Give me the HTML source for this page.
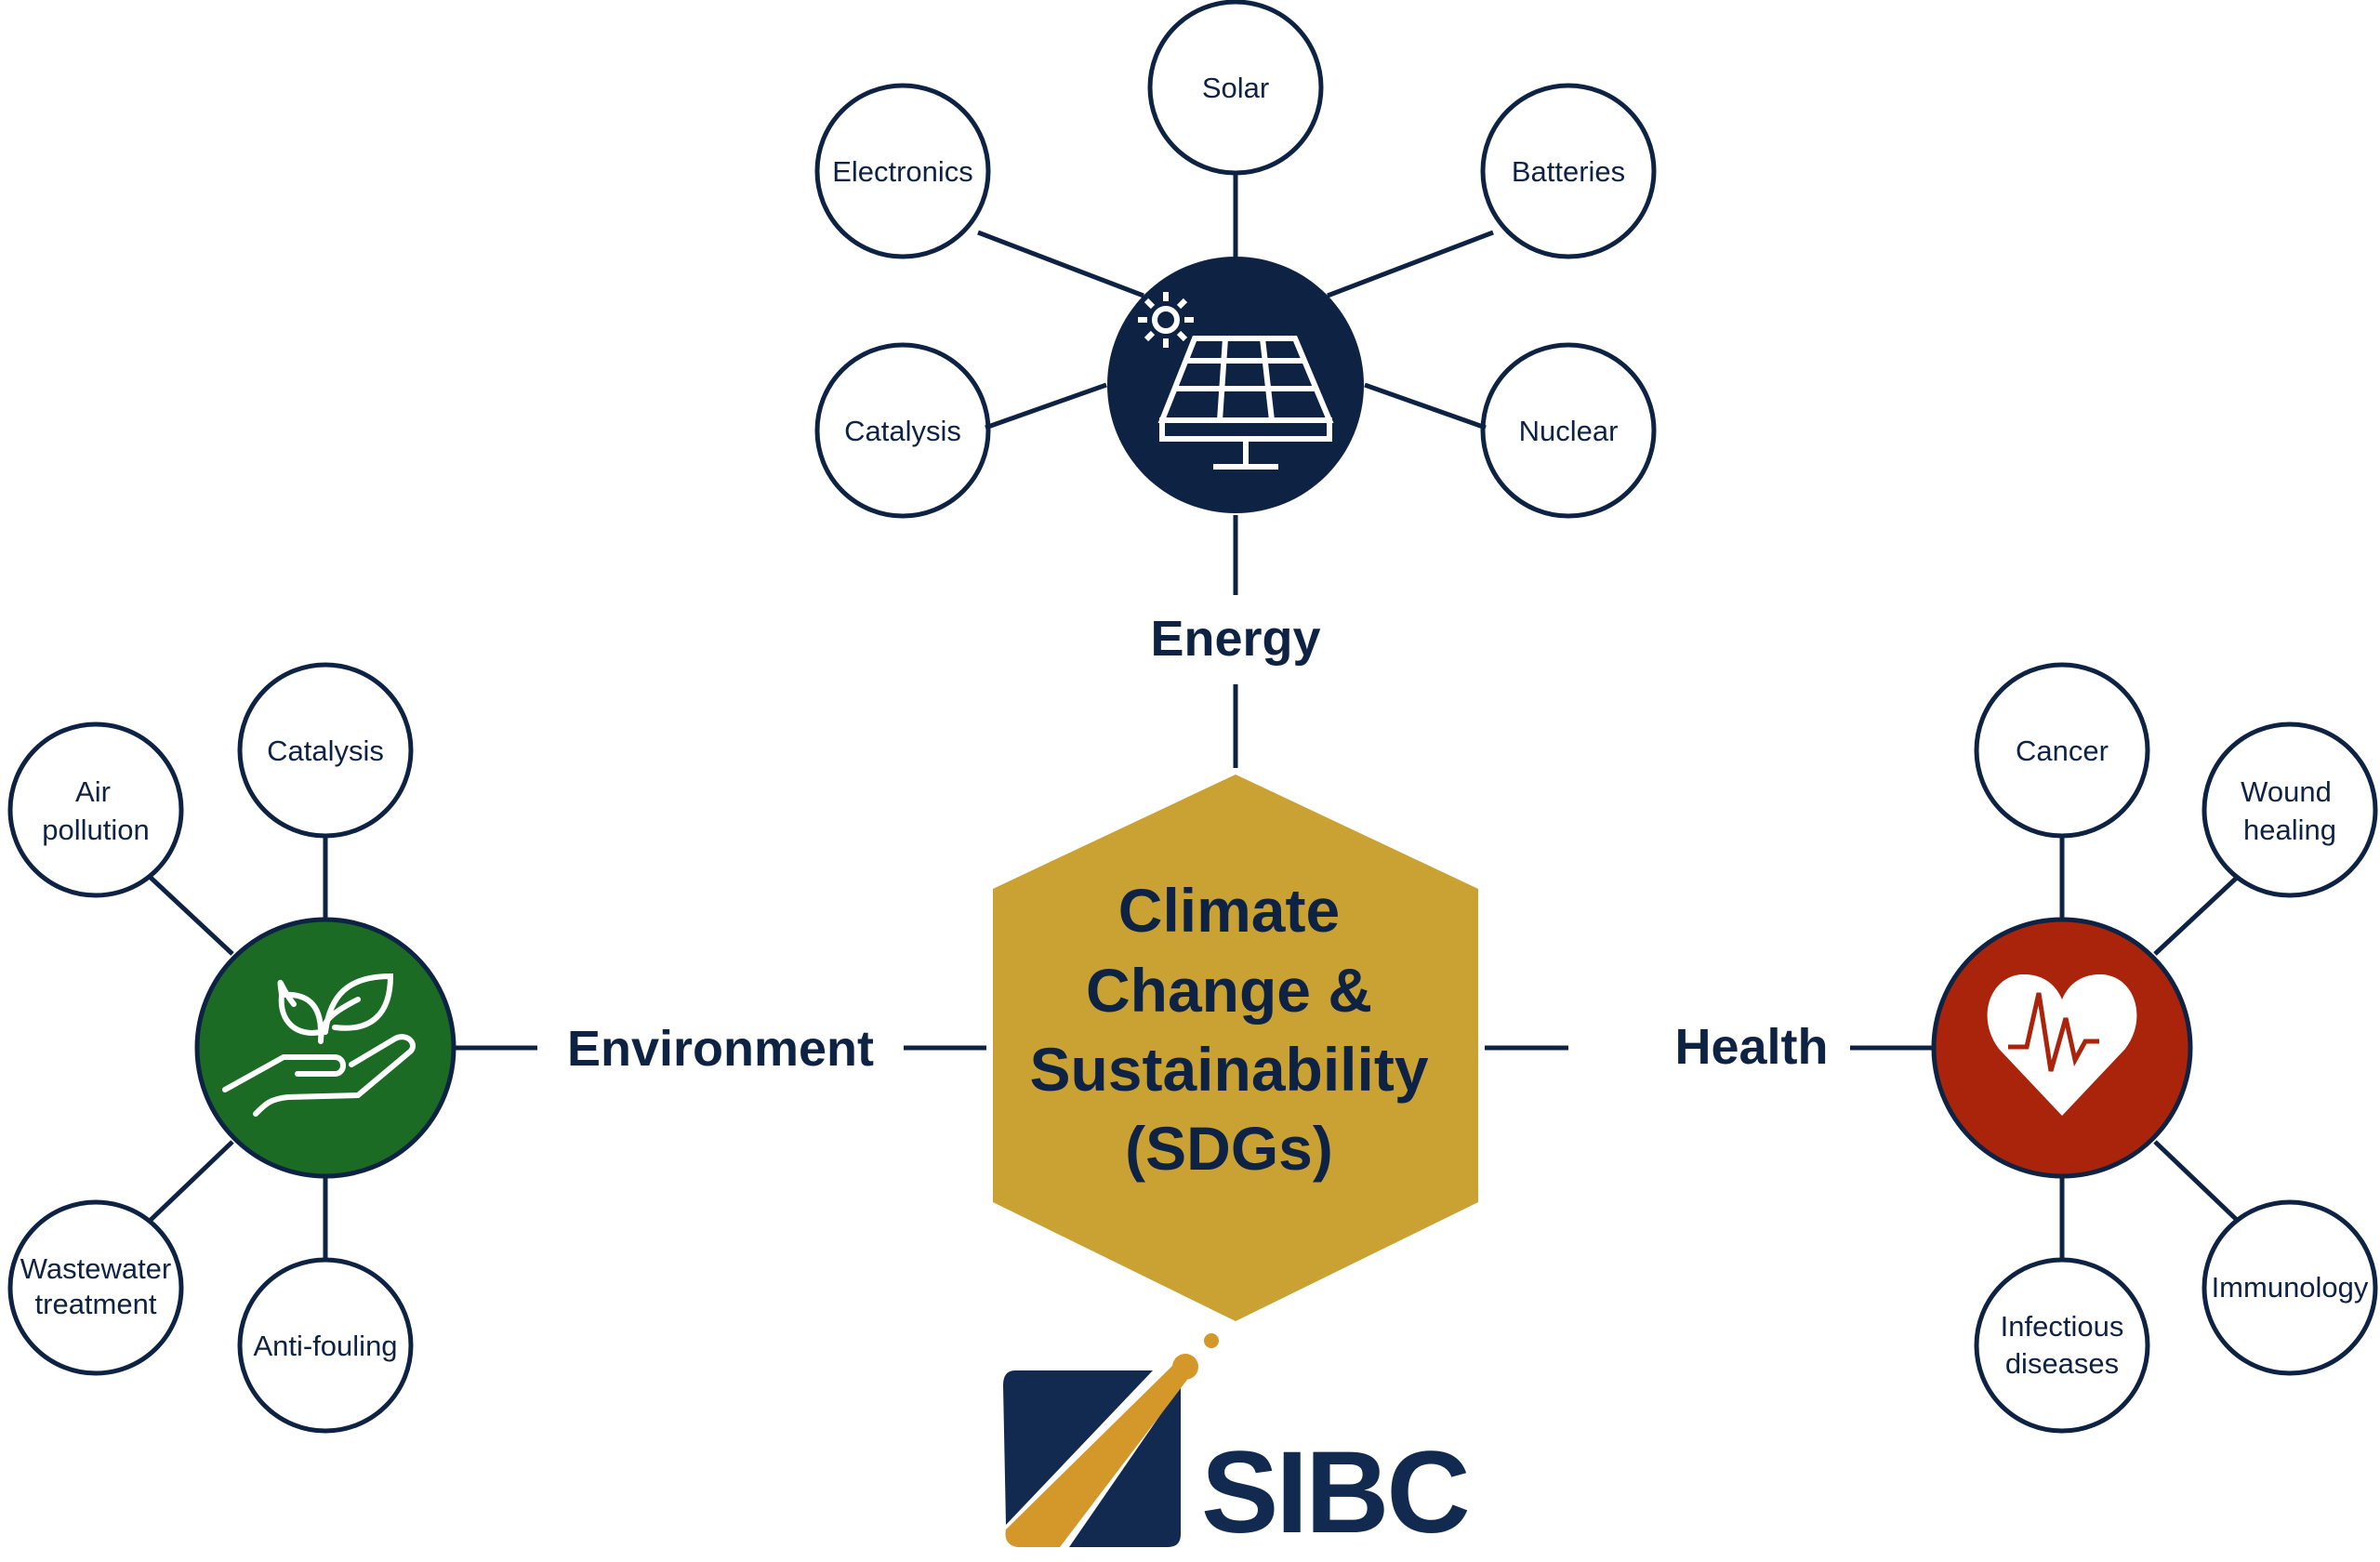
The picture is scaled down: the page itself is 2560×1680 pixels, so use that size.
<!DOCTYPE html>
<html><head><meta charset="utf-8"><style>
html,body{margin:0;padding:0;background:#fff;}
svg{display:block}
text{font-family:"Liberation Sans",sans-serif;fill:#0e2344}
.s{font-size:31px;text-anchor:middle}
.b{font-weight:bold;text-anchor:middle}
</style></head><body>
<svg width="2560" height="1680" viewBox="0 0 2560 1680" xmlns="http://www.w3.org/2000/svg">
<g stroke="#0e2344" stroke-width="5" fill="none">
<line x1="1329" y1="186" x2="1329" y2="280"/>
<line x1="1052" y1="250" x2="1230" y2="318"/>
<line x1="1606" y1="250" x2="1428" y2="318"/>
<line x1="1060" y1="460" x2="1190" y2="414"/>
<line x1="1598" y1="460" x2="1468" y2="414"/>
<line x1="1329" y1="554" x2="1329" y2="640"/>
<line x1="1329" y1="736" x2="1329" y2="826"/>
<line x1="350" y1="899" x2="350" y2="990"/>
<line x1="160" y1="942" x2="250" y2="1026"/>
<line x1="160" y1="1314" x2="250" y2="1228"/>
<line x1="350" y1="1267" x2="350" y2="1355"/>
<line x1="490" y1="1127" x2="578" y2="1127"/>
<line x1="972" y1="1127" x2="1061" y2="1127"/>
<line x1="2218" y1="899" x2="2218" y2="990"/>
<line x1="2408" y1="942" x2="2318" y2="1026"/>
<line x1="2408" y1="1314" x2="2318" y2="1228"/>
<line x1="2218" y1="1267" x2="2218" y2="1355"/>
<line x1="1597" y1="1127" x2="1687" y2="1127"/>
<line x1="1990" y1="1127" x2="2078" y2="1127"/>
<circle cx="1329" cy="94" r="92"/>
<circle cx="971" cy="184" r="92"/>
<circle cx="1687" cy="184" r="92"/>
<circle cx="971" cy="463" r="92"/>
<circle cx="1687" cy="463" r="92"/>
<circle cx="350" cy="807" r="92"/>
<circle cx="103" cy="871" r="92"/>
<circle cx="103" cy="1385" r="92"/>
<circle cx="350" cy="1447" r="92"/>
<circle cx="2218" cy="807" r="92"/>
<circle cx="2463" cy="871" r="92"/>
<circle cx="2463" cy="1385" r="92"/>
<circle cx="2218" cy="1447" r="92"/>
</g>
<circle cx="1329" cy="414" r="138" fill="#0e2344"/>
<circle cx="350" cy="1127" r="138" fill="#1b6b25" stroke="#0e2344" stroke-width="5"/>
<circle cx="2218" cy="1127" r="138" fill="#aa230b" stroke="#0e2344" stroke-width="5"/>
<g stroke="#fff" stroke-width="6" fill="none">
<circle cx="1254" cy="344" r="12"/>
<line x1="1254" y1="314" x2="1254" y2="324"/><line x1="1254" y1="364" x2="1254" y2="374"/>
<line x1="1224" y1="344" x2="1234" y2="344"/><line x1="1274" y1="344" x2="1284" y2="344"/>
<line x1="1233" y1="323" x2="1240" y2="330"/><line x1="1268" y1="358" x2="1275" y2="365"/>
<line x1="1275" y1="323" x2="1268" y2="330"/><line x1="1240" y1="358" x2="1233" y2="365"/>
<path d="M1285 364 L1393 364 L1430 452 L1250 452 Z"/>
<rect x="1250" y="452" width="180" height="20"/>
<line x1="1277" y1="388" x2="1403" y2="388"/>
<line x1="1265" y1="418" x2="1415" y2="418"/>
<line x1="1318" y1="364" x2="1312" y2="452"/>
<line x1="1358" y1="364" x2="1368" y2="452"/>
<line x1="1340" y1="472" x2="1340" y2="500"/>
<line x1="1305" y1="502" x2="1375" y2="502"/>
</g>
<g stroke="#fff" stroke-width="6" fill="none" stroke-linecap="round">
<path d="M316 1080 C300 1060 300 1045 303 1070 M303 1070 C300 1100 320 1115 345 1110 C345 1080 330 1068 303 1070Z"/>
<path d="M350 1110 C355 1070 375 1050 420 1050 C420 1090 400 1110 360 1105"/>
<path d="M345 1120 C345 1100 355 1090 385 1075"/>
<path d="M242 1172 L305 1137 L360 1137 C372 1137 372 1155 360 1155 L320 1155"/>
<path d="M378 1145 L425 1117 C440 1110 450 1125 440 1132 L385 1178 L310 1180 C290 1182 285 1188 275 1198"/>
</g>
<path d="M2218 1200 L2150 1128 C2125 1095 2140 1050 2175 1048 C2198 1047 2212 1060 2218 1075 C2224 1060 2238 1047 2261 1048 C2296 1050 2311 1095 2286 1128 Z" fill="#fff"/>
<polyline points="2160,1126 2180,1126 2193,1068 2206,1152 2222,1095 2232,1140 2243,1120 2258,1120" stroke="#aa230b" stroke-width="5" fill="none"/>
<polygon points="1329,833 1590,956 1590,1293 1329,1421 1068,1293 1068,956" fill="#c9a233"/>
<text class="b" x="1322" y="1002" font-size="66">Climate</text>
<text class="b" x="1322" y="1088" font-size="66">Change &amp;</text>
<text class="b" x="1322" y="1173" font-size="66">Sustainability</text>
<text class="b" x="1322" y="1258" font-size="66">(SDGs)</text>
<text class="b" x="1329" y="705" font-size="54">Energy</text>
<text class="b" x="775" y="1146" font-size="54">Environment</text>
<text class="b" x="1884" y="1144" font-size="54">Health</text>
<text class="s" x="1329" y="105">Solar</text>
<text class="s" x="971" y="195">Electronics</text>
<text class="s" x="1687" y="195">Batteries</text>
<text class="s" x="971" y="474">Catalysis</text>
<text class="s" x="1687" y="474">Nuclear</text>
<text class="s" x="350" y="818">Catalysis</text>
<text class="s" x="100" y="862">Air</text>
<text class="s" x="103" y="903">pollution</text>
<text class="s" x="103" y="1375">Wastewater</text>
<text class="s" x="103" y="1413">treatment</text>
<text class="s" x="350" y="1458">Anti-fouling</text>
<text class="s" x="2218" y="818">Cancer</text>
<text class="s" x="2459" y="862">Wound</text>
<text class="s" x="2463" y="903">healing</text>
<text class="s" x="2463" y="1395">Immunology</text>
<text class="s" x="2218" y="1437">Infectious</text>
<text class="s" x="2218" y="1477">diseases</text>
<path d="M1092 1474 L1240 1474 L1082 1640 L1079 1490 Q1079 1474 1092 1474Z" fill="#122a4f"/>
<path d="M1270 1490 L1270 1650 Q1270 1664 1256 1664 L1150 1664 Z" fill="#122a4f"/>
<path d="M1082 1645 L1262 1468 L1280 1480 L1140 1664 L1095 1664 Q1079 1662 1082 1645Z" fill="#d4972a"/>
<circle cx="1275" cy="1470" r="14" fill="#d4972a"/>
<circle cx="1303" cy="1442" r="8" fill="#d4972a"/>
<text x="1292" y="1648" font-size="125" font-weight="bold" letter-spacing="-3" style="fill:#122a4f">SIBC</text>
</svg>
</body></html>
